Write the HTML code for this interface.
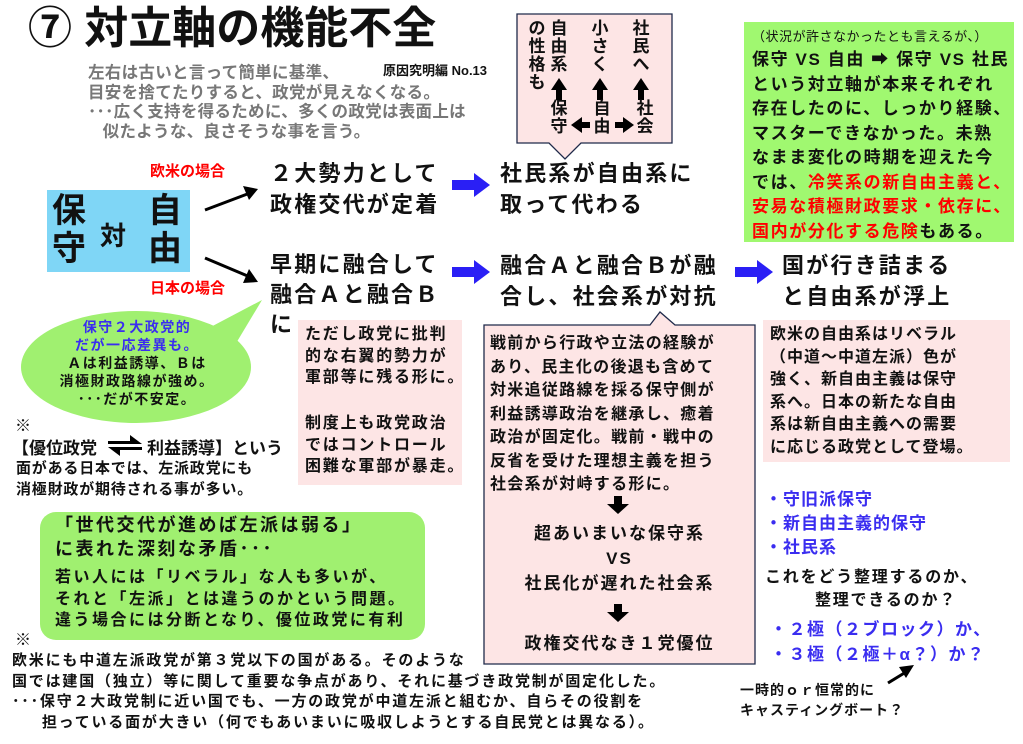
<!DOCTYPE html>
<html><head><meta charset="utf-8">
<style>
body{margin:0;width:1023px;height:744px;background:#fff;position:relative;overflow:hidden;font-family:"Liberation Sans","Noto Sans CJK JP",sans-serif;font-weight:bold;color:#111}
.a{position:absolute;white-space:nowrap}
.pink{background:#fde5e5}
.blue{color:#3a2df0}
.red{color:#f00}
.v{position:absolute;font-size:17px;line-height:18px;width:18px;text-align:center;white-space:normal}
</style></head><body>
<div class="a" style="left:28px;top:0px;font-size:44px;line-height:58px;">⑦ 対立軸の機能不全</div>
<div class="a" style="left:383px;top:60px;font-size:13px;">原因究明編 No.13</div>
<div class="a" style="left:88px;top:64px;font-size:16.5px;line-height:19.5px;color:#777;letter-spacing:0.3px;">左右は古いと言って簡単に基準、<br>目安を捨てたりすると、政党が見えなくなる。<br>･･･広く支持を得るために、多くの政党は表面上は<br>&nbsp;&nbsp;&nbsp;似たような、良さそうな事を言う。</div>

<svg class="a" style="left:0;top:0" width="1023" height="744">
<path d="M517,14 H672 V143 H581 L565,159 L549,143 H517 Z" fill="#fde5e5" stroke="#1f2a4a" stroke-width="1.3"/>
<path d="M484,325 H650 L660,312 L675,325 H755 V664 H484 Z" fill="#fde5e5" stroke="#1f2a4a" stroke-width="1.3"/>
<ellipse cx="136" cy="367" rx="115" ry="56" fill="#a0f070"/>
<path d="M205,330 L262,300 L232,350 Z" fill="#a0f070"/>
<g fill="#000">
<path d="M559,78 l-8,12 h5 v10 h6 v-10 h5 z"/>
<path d="M600,78 l-8,12 h5 v10 h6 v-10 h5 z"/>
<path d="M641,78 l-8,12 h5 v10 h6 v-10 h5 z"/>
<path d="M571,125 l11,-8 v5 h8 v6 h-8 v5 z"/>
<path d="M634,125 l-11,-8 v5 h-8 v6 h8 v5 z"/>
</g>
<line x1="205" y1="210" x2="250" y2="193" stroke="#000" stroke-width="3"/>
<path d="M258,189 L243,186 L249,200 Z" fill="#000"/>
<line x1="205" y1="258" x2="250" y2="277" stroke="#000" stroke-width="3"/>
<path d="M258,282 L249,269 L243,283 Z" fill="#000"/>
<path d="M452,180 H474 V173 L490,185 L474,197 V190 H452 Z" fill="#2a1ff5"/>
<path d="M452,267 H474 V260 L490,272 L474,284 V277 H452 Z" fill="#2a1ff5"/>
<path d="M735,267 H757 V260 L773,272 L757,284 V277 H735 Z" fill="#2a1ff5"/>
<path d="M108,441 H130 V435 L142,444 H108 Z" fill="#000"/>
<path d="M142,450 H120 V456 L108,447 H142 Z" fill="#000"/>
<line x1="888" y1="683" x2="906" y2="672" stroke="#000" stroke-width="3"/>
<path d="M914,665 L899,667 L906,678 Z" fill="#000"/>
<path d="M373,392 h8 v8 h7 l-11,10 l-11,-10 h7 z" fill="#000"/>
<path d="M614,496 h8 v8 h7 l-11,10 l-11,-10 h7 z" fill="#000"/>
<path d="M614,604 h8 v8 h7 l-11,10 l-11,-10 h7 z" fill="#000"/>
</svg>

<div class="v" style="left:528px;top:20px;">の性格も</div>
<div class="v" style="left:550px;top:20px;">自由系</div>
<div class="v" style="left:591px;top:20px;">小さく</div>
<div class="v" style="left:632px;top:20px;">社民へ</div>
<div class="v" style="left:550px;top:100px;">保守</div>
<div class="v" style="left:593px;top:100px;">自由</div>
<div class="v" style="left:636px;top:100px;">社会</div>

<div class="a" style="left:744px;top:22px;width:270px;height:220px;background:#a0f870;"></div>
<div class="a" style="left:752px;top:26px;font-size:13px;font-weight:normal;letter-spacing:0.5px;">（状況が許さなかったとも言えるが、）</div>
<div class="a" style="left:752px;top:48px;font-size:17px;line-height:24.5px;letter-spacing:1.6px;">保守 VS 自由 ➡ 保守 VS 社民<br>という対立軸が本来それぞれ<br>存在したのに、しっかり経験、<br>マスターできなかった。未熟<br>なまま変化の時期を迎えた今<br>では、<span class="red">冷笑系の新自由主義と、</span><br><span class="red">安易な積極財政要求・依存に、</span><br><span class="red">国内が分化する危険</span>もある。</div>

<div class="a red" style="left:150px;top:160px;font-size:15px;">欧米の場合</div>
<div class="a red" style="left:150px;top:277px;font-size:15px;">日本の場合</div>
<div class="a" style="left:47px;top:190px;width:143px;height:82px;background:#7fd6f6;"></div>
<div class="a" style="left:52px;top:192px;font-size:34px;line-height:38px;width:40px;white-space:normal;">保<br>守</div>
<div class="a" style="left:100px;top:216px;font-size:26px;">対</div>
<div class="a" style="left:148px;top:192px;font-size:34px;line-height:38px;width:40px;white-space:normal;">自<br>由</div>

<div class="a" style="left:270px;top:158px;font-size:22px;line-height:31px;letter-spacing:2.2px;">２大勢力として<br>政権交代が定着</div>
<div class="a" style="left:500px;top:158px;font-size:22px;line-height:31px;letter-spacing:2.2px;">社民系が自由系に<br>取って代わる</div>
<div class="a" style="left:270px;top:250px;font-size:22px;line-height:30px;letter-spacing:2.2px;">早期に融合して<br>融合Ａと融合Ｂ<br>に</div>
<div class="a" style="left:500px;top:250px;font-size:22px;line-height:31px;letter-spacing:2.2px;">融合Ａと融合Ｂが融<br>合し、社会系が対抗</div>
<div class="a" style="left:782px;top:250px;font-size:22px;line-height:31px;letter-spacing:2.2px;">国が行き詰まる<br>と自由系が浮上</div>

<div class="a" style="left:52px;top:318px;font-size:14px;line-height:18px;text-align:center;width:170px;letter-spacing:1.5px;"><span class="blue">保守２大政党的<br>だが一応差異も。</span><br>Ａは利益誘導、Ｂは<br>消極財政路線が強め。<br>･･･だが不安定。</div>

<div class="a" style="left:15px;top:412px;font-size:16px;font-weight:normal;">※</div>
<div class="a" style="left:12px;top:434px;font-size:17px;">【優位政党</div>
<div class="a" style="left:147px;top:434px;font-size:17px;">利益誘導】という</div>
<div class="a" style="left:16px;top:458px;font-size:15px;line-height:21px;letter-spacing:0.8px;">面がある日本では、左派政党にも<br>消極財政が期待される事が多い。</div>

<div class="a pink" style="left:298px;top:320px;width:164px;height:165px;"></div>
<div class="a" style="left:305px;top:324px;font-size:16px;line-height:21.5px;letter-spacing:1.8px;">ただし政党に批判<br>的な右翼的勢力が<br>軍部等に残る形に。</div>
<div class="a" style="left:305px;top:413px;font-size:16px;line-height:21.5px;letter-spacing:1.8px;">制度上も政党政治<br>ではコントロール<br>困難な軍部が暴走。</div>

<div class="a" style="left:490px;top:332px;font-size:16px;line-height:23.5px;letter-spacing:1.3px;">戦前から行政や立法の経験が<br>あり、民主化の後退も含めて<br>対米追従路線を採る保守側が<br>利益誘導政治を継承し、癒着<br>政治が固定化。戦前・戦中の<br>反省を受けた理想主義を担う<br>社会系が対峙する形に。</div>
<div class="a" style="left:484px;top:521px;width:271px;text-align:center;font-size:17px;line-height:25px;letter-spacing:2px;">超あいまいな保守系<br>VS<br>社民化が遅れた社会系</div>
<div class="a" style="left:484px;top:629px;width:271px;text-align:center;font-size:17px;letter-spacing:2px;">政権交代なき１党優位</div>

<div class="a pink" style="left:763px;top:320px;width:247px;height:142px;"></div>
<div class="a" style="left:770px;top:324px;font-size:16px;line-height:22.5px;letter-spacing:1px;">欧米の自由系はリベラル<br>（中道～中道左派）色が<br>強く、新自由主義は保守<br>系へ。日本の新たな自由<br>系は新自由主義への需要<br>に応じる政党として登場。</div>

<div class="a blue" style="left:765px;top:488px;font-size:17px;line-height:24px;letter-spacing:1px;">・守旧派保守<br>・新自由主義的保守<br>・社民系</div>
<div class="a" style="left:765px;top:566px;font-size:16px;line-height:23px;letter-spacing:1.8px;">これをどう整理するのか、<br>&nbsp;&nbsp;&nbsp;&nbsp;&nbsp;&nbsp;&nbsp;&nbsp;整理できるのか？</div>
<div class="a blue" style="left:770px;top:617px;font-size:17px;line-height:25px;letter-spacing:1.5px;">・２極（２ブロック）か、<br>・３極（２極＋α？）か？</div>
<div class="a" style="left:740px;top:680px;font-size:14px;line-height:20px;letter-spacing:1px;">一時的ｏｒ恒常的に<br>キャスティングボート？</div>

<div class="a" style="left:40px;top:512px;width:385px;height:128px;background:#a0f070;border-radius:16px;"></div>
<div class="a" style="left:55px;top:513px;font-size:18px;line-height:24px;letter-spacing:2.5px;">「世代交代が進めば左派は弱る」<br>に表れた深刻な矛盾･･･</div>
<div class="a" style="left:55px;top:567px;font-size:16px;line-height:21.5px;letter-spacing:2.5px;">若い人には「リベラル」な人も多いが、<br>それと「左派」とは違うのかという問題。<br>違う場合には分断となり、優位政党に有利</div>

<div class="a" style="left:15px;top:626px;font-size:16px;font-weight:normal;">※</div>
<div class="a" style="left:12px;top:651px;font-size:15px;line-height:20.5px;letter-spacing:1.8px;">欧米にも中道左派政党が第３党以下の国がある。そのような<br>国では建国（独立）等に関して重要な争点があり、それに基づき政党制が固定化した。<br>･･･保守２大政党制に近い国でも、一方の政党が中道左派と組むか、自らその役割を<br>&nbsp;&nbsp;&nbsp;&nbsp;&nbsp;担っている面が大きい（何でもあいまいに吸収しようとする自民党とは異なる）。</div>
</body></html>
